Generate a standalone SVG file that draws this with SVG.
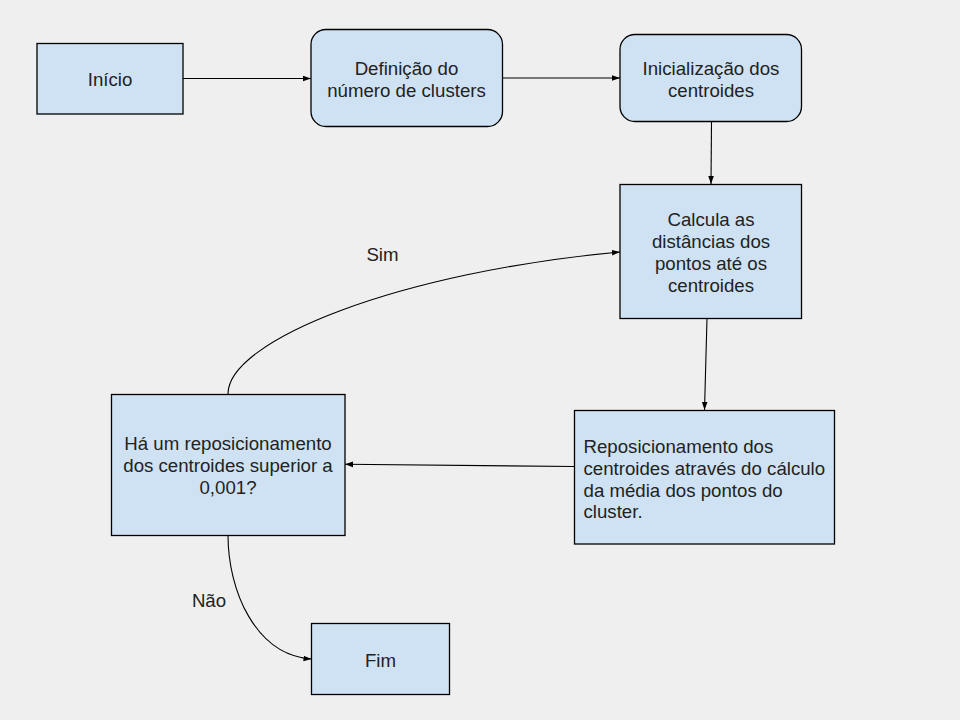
<svg xmlns="http://www.w3.org/2000/svg" width="960" height="720" viewBox="0 0 960 720">
<style>
.box{fill:#cfe2f3;stroke:#000;stroke-width:1.3}
.t{font-family:"Liberation Sans",Arial,sans-serif;font-size:18.67px;fill:#222}
.c{text-anchor:middle}
.e{fill:none;stroke:#000;stroke-width:1.1}
</style>
<defs>
<marker id="ah" viewBox="0 0 10 10" refX="10" refY="5" markerWidth="8" markerHeight="8" markerUnits="userSpaceOnUse" orient="auto">
<path d="M0,1.5 L10,5 L0,8.5 Z" fill="#000"/>
</marker>
</defs>
<rect width="960" height="720" fill="#efefef"/>
<g id="connectors">
<line class="e" x1="183" y1="78.5" x2="311" y2="78.5" marker-end="url(#ah)"/>
<line class="e" x1="502.5" y1="78" x2="620" y2="78" marker-end="url(#ah)"/>
<line class="e" x1="711.5" y1="122" x2="711" y2="184" marker-end="url(#ah)"/>
<line class="e" x1="707" y1="318.5" x2="704.5" y2="410" marker-end="url(#ah)"/>
<line class="e" x1="574" y1="466.5" x2="345" y2="464.3" marker-end="url(#ah)"/>
<path class="e" d="M228,394 C228,340 400,272 620,252" marker-end="url(#ah)"/>
<path class="e" d="M228,535 C228,590 255,655 311.5,659" marker-end="url(#ah)"/>
<text class="t c" x="382.5" y="260.5">Sim</text>
<text class="t c" x="209" y="607">Não</text>
</g>
<g id="inicio">
<rect class="box" x="37" y="43.5" width="146" height="70.5"/>
<text class="t c" x="110" y="85.5">Início</text>
</g>
<g id="definicao">
<rect class="box" x="311" y="29.5" width="191.5" height="97" rx="15"/>
<text class="t c" x="406.5" y="75">Definição do</text>
<text class="t c" x="406.5" y="96.5">número de clusters</text>
</g>
<g id="inicializacao">
<rect class="box" x="620" y="34.5" width="181.5" height="87" rx="15"/>
<text class="t c" x="711" y="75">Inicialização dos</text>
<text class="t c" x="711" y="96.5">centroides</text>
</g>
<g id="calcula">
<rect class="box" x="620" y="184.5" width="181.5" height="134"/>
<text class="t c" x="711" y="225.5">Calcula as</text>
<text class="t c" x="711" y="247.5">distâncias dos</text>
<text class="t c" x="711" y="269.5">pontos até os</text>
<text class="t c" x="711" y="291.5">centroides</text>
</g>
<g id="reposicionamento">
<rect class="box" x="574.5" y="410.5" width="260" height="133.5"/>
<text class="t" x="583.5" y="453">Reposicionamento dos</text>
<text class="t" x="583.5" y="474.8">centroides através do cálculo</text>
<text class="t" x="583.5" y="496.6">da média dos pontos do</text>
<text class="t" x="583.5" y="518.4">cluster.</text>
</g>
<g id="decisao">
<rect class="box" x="111.5" y="394.5" width="233.5" height="141"/>
<text class="t c" x="228" y="449.5">Há um reposicionamento</text>
<text class="t c" x="228" y="471.5">dos centroides superior a</text>
<text class="t c" x="228" y="494">0,001?</text>
</g>
<g id="fim">
<rect class="box" x="311.5" y="623.5" width="138" height="71"/>
<text class="t c" x="380.5" y="666.5">Fim</text>
</g>
</svg>
